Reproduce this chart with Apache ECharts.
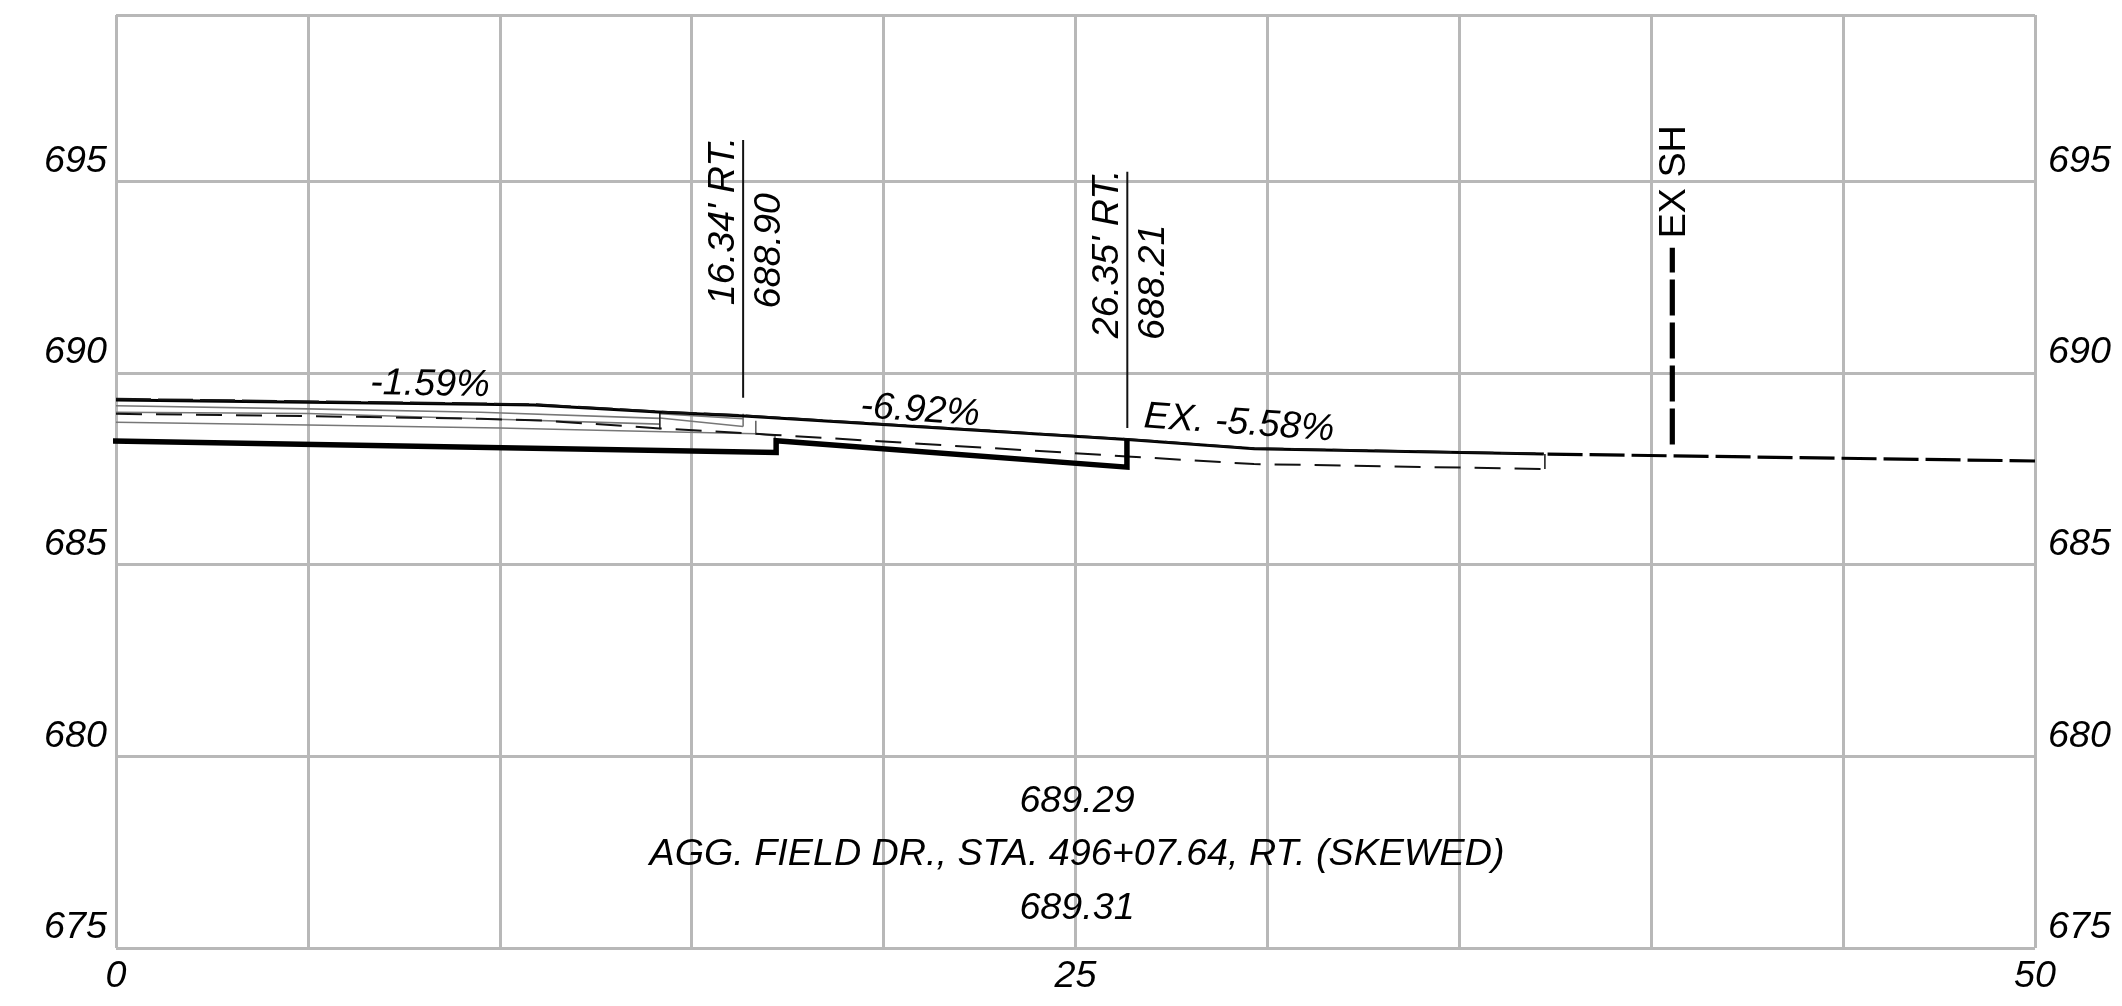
<!DOCTYPE html>
<html><head><meta charset="utf-8">
<style>html,body{margin:0;padding:0;background:#fff}#c{width:2122px;height:1006px}</style>
<script src="https://cdn.jsdelivr.net/npm/echarts@6/dist/echarts.min.js"></script>
</head><body><div id="c"></div>
<script>
const xTickLabels = ['0','25','50'];
const yTickLabels = [675,680,685,690,695];
const surfaceTop = [[0,689.29],[9.5,689.18],[10.9,689.16],[14.12,688.98],[16.36,688.87],[26.35,688.26],[29.66,688.02],[37.2,687.88]];
const existingTop = [[0,689.32],[9.5,689.20],[10.9,689.18],[14.12,688.99],[16.36,688.89],[26.35,688.27],[29.66,688.03],[37.2,687.89]];
const existingOnward = [[37.3,687.88],[50,687.70]];
const baseThick = [[-0.08,688.22],[17.2,687.92],[17.2,688.23],[26.34,687.54],[26.34,688.28]];
const subgradeDashed = [[0,688.93],[5,688.87],[9.5,688.80],[11.2,688.75],[14.17,688.55],[17.17,688.38],[26.34,687.82],[29.65,687.62],[37.23,687.49]];
const greyUpper = [[0,689.14],[5,689.06],[9.5,688.97],[14.17,688.81]];
const greyMiddle = [[0,688.97],[5,688.94],[9.5,688.80],[14.17,688.66]];
const greyLower = [[0,688.71],[5,688.64],[10,688.56],[13.1,688.49],[16.67,688.41]];
const midUpper = [[14.17,688.93],[16.34,688.80]];
const midLower = [[14.17,688.82],[16.34,688.60]];
const stubA = [[14.17,688.96],[14.17,688.53]];
const stubB = [[16.34,688.93],[16.34,688.60]];
const stubC = [[16.67,688.75],[16.67,688.41],[17.17,688.36],[17.17,688.23]];
const stubD = [[37.23,687.88],[37.23,687.49]];
const callout1 = [[16.34,696.07],[16.34,689.35]];
const callout2 = [[26.35,695.24],[26.35,688.56]];
const exShLine = [[40.55,688.13],[40.55,693.26]];
const noteText = ["16.34' RT.","688.90","26.35' RT.","688.21","-1.59%","-6.92%","EX. -5.58%","689.29","AGG. FIELD DR., STA. 496+07.64, RT. (SKEWED)","689.31"];
const noteX = [15.83,17.03,25.84,27.04,8.18,20.95,29.26,25.04,25.04,25.04];
const noteY = [693.96,693.18,693.10,692.36,689.69,689.01,688.68,678.81,677.43,676.02];
const noteRot = [90,90,90,90,-1,-4,-4,0,0,0];
const exShText = ['EX SH'];
const exShPos = [[40.62,694.98]];

const FONT = '"Liberation Sans", Arial, sans-serif';
const FS = 37.7;
const ln = (data,color,width,type,z) => ({type:'line',data,showSymbol:false,symbol:'none',clip:false,animation:false,silent:true,z:z||3,
  lineStyle:{color,width,type:type||'solid',cap:'butt',join:'miter'}});
const chart = echarts.init(document.getElementById('c'),null,{renderer:'canvas'});
const axisColor = '#b8b8b8';
const yLabel = (align,margin) => ({show:true,fontFamily:FONT,fontStyle:'italic',fontSize:FS,color:'#000',verticalAlign:'bottom',align,
  showMaxLabel:false,showMinLabel:true,margin,padding:[0,0,1,0],
  formatter:v=>yTickLabels.includes(v)?String(v):''});
const noteLabel = (t,rot,style) => ({show:true,position:'inside',formatter:t,rotate:rot,fontFamily:FONT,fontStyle:style,fontSize:FS,
  color:'#000',textBorderWidth:0,textBorderColor:'transparent',opacity:1,align:'center',verticalAlign:'middle'});
chart.setOption({
  animation:false,backgroundColor:'#fff',
  grid:{left:116,right:87,top:15,bottom:58,show:false,containLabel:false},
  xAxis:{type:'value',min:0,max:50,interval:5,
    axisLine:{show:false},axisTick:{show:false},
    splitLine:{show:true,lineStyle:{color:axisColor,width:3}},
    axisLabel:{fontFamily:FONT,fontStyle:'italic',fontSize:FS,color:'#000',margin:10,showMinLabel:true,showMaxLabel:true,
      formatter:v=>xTickLabels.includes(String(v))?String(v):''}},
  yAxis:[
    {type:'value',min:675,max:699.33,interval:5,position:'left',axisLine:{show:false},axisTick:{show:false},
     splitLine:{show:true,lineStyle:{color:axisColor,width:3}},axisLabel:yLabel('right',9)},
    {type:'value',min:675,max:699.33,interval:5,position:'right',axisLine:{show:false},axisTick:{show:false},
     splitLine:{show:false},axisLabel:yLabel('left',13)}
  ],
  series:[
    ln(greyUpper,'#777',1.6),ln(greyMiddle,'#777',1.6),ln(greyLower,'#777',1.6),
    ln(midUpper,'#777',1.6),ln(midLower,'#777',1.6),
    ln(stubA,'#222',1.6),ln(stubB,'#777',1.6),ln(stubC,'#666',1.6),ln(stubD,'#222',1.6),
    ln(subgradeDashed,'#111',2,[26,14],4),
    ln(surfaceTop,'#000',3,'solid',5),
    ln(existingTop,'#111',2,[35,7],5),
    ln(existingOnward,'#000',3.2,[35,7],5),
    ln(baseThick,'#000',5.5,'solid',6),
    ln(callout1,'#111',2,'solid',5),ln(callout2,'#111',2,'solid',5),
    ln(exShLine,'#000',5.2,[36,7],5),
    {type:'scatter',symbolSize:1,itemStyle:{color:'transparent'},animation:false,silent:true,z:8,clip:false,
     data:noteText.map((t,i)=>({value:[noteX[i],noteY[i]],name:t,label:noteLabel(t,noteRot[i],'italic')}))},
    {type:'scatter',symbolSize:1,itemStyle:{color:'transparent'},animation:false,silent:true,z:8,clip:false,
     data:exShPos.map((p,i)=>({value:p,name:exShText[i],label:noteLabel(exShText[i],90,'normal')}))}
  ]
});
</script></body></html>
